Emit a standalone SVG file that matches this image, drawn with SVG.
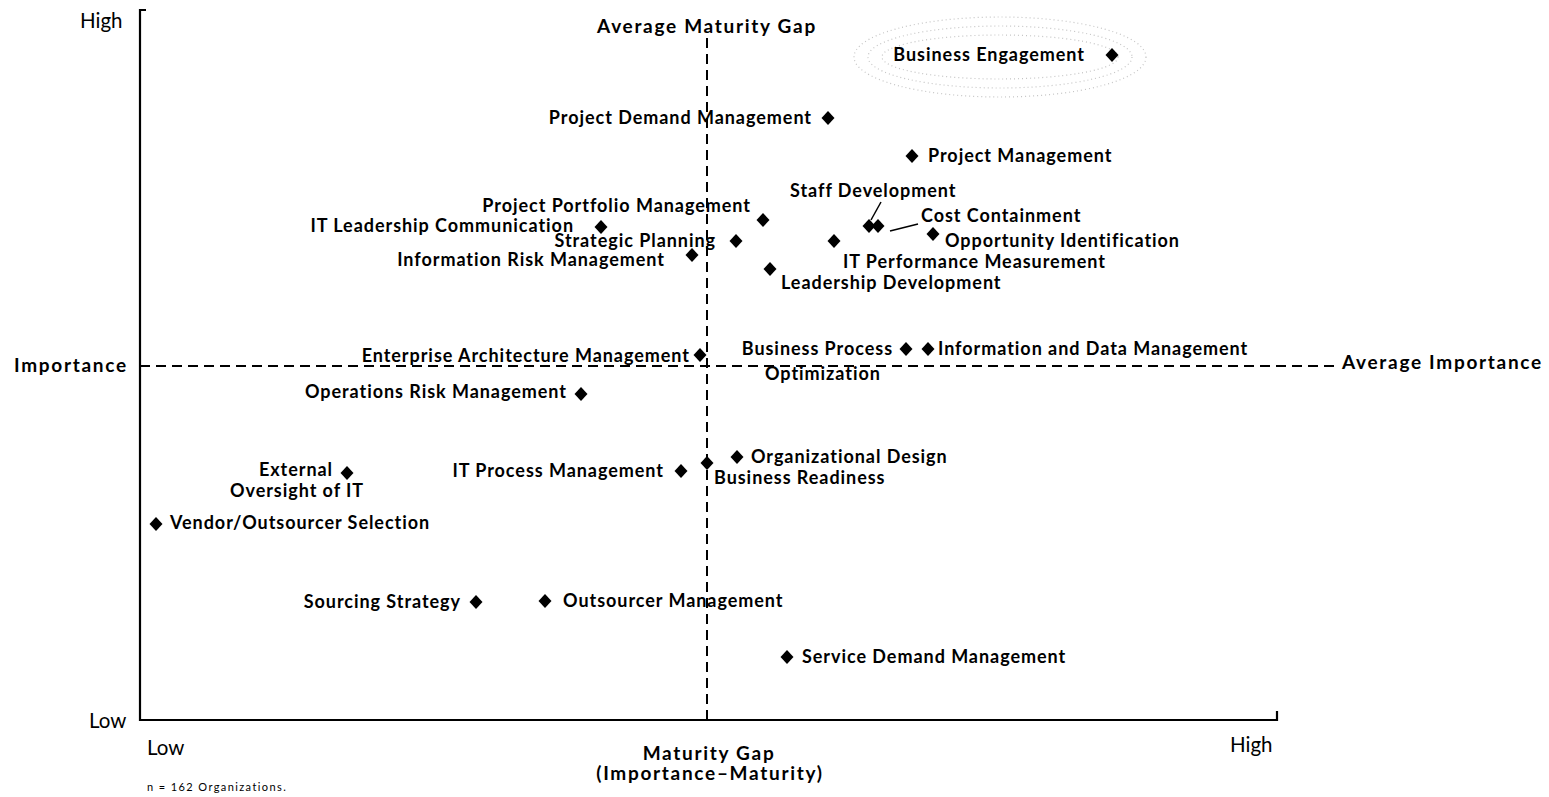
<svg xmlns="http://www.w3.org/2000/svg" width="1549" height="797" viewBox="0 0 1549 797">
  <style>
    .lbl { font-family: Lato, "Open Sans", sans-serif; font-weight: 700; font-size: 18px; letter-spacing: 0.95px; fill: #000; }
    .ttl { font-family: Lato, "Open Sans", sans-serif; font-weight: 700; font-size: 19px; letter-spacing: 1.7px; fill: #000; }
    .axis { font-family: Lato, "Open Sans", sans-serif; font-weight: 400; font-size: 20.5px; fill: #000; }
    .note { font-family: Lato, "Open Sans", sans-serif; font-weight: 400; font-size: 11px; letter-spacing: 1.4px; fill: #000; }
    .end { text-anchor: end; }
    .mid { text-anchor: middle; }
    .frame { fill: none; stroke: #000; stroke-width: 2.2; }
    .avg { fill: none; stroke: #000; stroke-width: 2; stroke-dasharray: 10 6; }
    .lead { fill: none; stroke: #000; stroke-width: 1.5; }
    .halo { fill: none; stroke: #c4c4c4; stroke-width: 1.2; stroke-dasharray: 1 3; }
  </style>
  <defs>
    <path id="dia" d="M0,-7 L6.5,0 L0,7 L-6.5,0 Z" fill="#000"/>
  </defs>
  <rect width="1549" height="797" fill="#fff"/>

  <!-- axes frame -->
  <g id="axes">
    <path class="frame" d="M146,10 L140,10 L140,720 L1277,720 L1277,711"/>
    <text class="axis" x="80" y="28">High</text>
    <text class="axis" x="89" y="728">Low</text>
    <text class="axis" x="147" y="755">Low</text>
    <text class="axis" x="1230" y="752">High</text>
    <text class="ttl mid" x="709" y="760">Maturity Gap</text>
    <text class="ttl mid" x="710" y="780">(Importance–Maturity)</text>
    <text class="ttl" x="14" y="372">Importance</text>
    <text class="note" x="147" y="791">n = 162 Organizations.</text>
  </g>

  <!-- average reference lines -->
  <g id="averages">
    <path class="avg" d="M707,38 L707,720"/>
    <path class="avg" d="M140,366 L1338,366"/>
    <text class="ttl mid" x="707" y="33">Average Maturity Gap</text>
    <text class="ttl" x="1342" y="369">Average Importance</text>
  </g>

  <!-- leader lines -->
  <g id="connectors">
    <path class="lead" d="M881,202 L871,220"/>
    <path class="lead" d="M890,231 L918,224"/>
  </g>

  <!-- capabilities -->
  <g id="business-engagement">
    <ellipse class="halo" cx="1000" cy="57" rx="146" ry="40"/>
    <ellipse class="halo" cx="1000" cy="57" rx="132" ry="31"/>
    <ellipse class="halo" cx="1000" cy="57" rx="118" ry="22"/>
    <use href="#dia" x="1112" y="55"/>
    <text class="lbl end" x="1085" y="61">Business Engagement</text>
  </g>
  <g id="project-demand-management">
    <use href="#dia" x="828" y="118"/>
    <text class="lbl end" x="812" y="124">Project Demand Management</text>
  </g>
  <g id="project-management">
    <use href="#dia" x="912" y="156"/>
    <text class="lbl" x="928" y="162">Project Management</text>
  </g>
  <g id="staff-development">
    <use href="#dia" x="869" y="226"/>
    <text class="lbl" x="790" y="197">Staff Development</text>
  </g>
  <g id="cost-containment">
    <use href="#dia" x="878" y="226"/>
    <text class="lbl" x="921" y="222">Cost Containment</text>
  </g>
  <g id="opportunity-identification">
    <use href="#dia" x="933" y="234"/>
    <text class="lbl" x="945" y="247">Opportunity Identification</text>
  </g>
  <g id="it-performance-measurement">
    <use href="#dia" x="834" y="241"/>
    <text class="lbl" x="843" y="268">IT Performance Measurement</text>
  </g>
  <g id="leadership-development">
    <use href="#dia" x="770" y="269"/>
    <text class="lbl" x="781" y="289">Leadership Development</text>
  </g>
  <g id="project-portfolio-management">
    <use href="#dia" x="763" y="220"/>
    <text class="lbl end" x="751" y="212">Project Portfolio Management</text>
  </g>
  <g id="it-leadership-communication">
    <use href="#dia" x="601" y="227"/>
    <text class="lbl end" x="574" y="232">IT Leadership Communication</text>
  </g>
  <g id="strategic-planning">
    <use href="#dia" x="736" y="241"/>
    <text class="lbl end" x="716" y="247">Strategic Planning</text>
  </g>
  <g id="information-risk-management">
    <use href="#dia" x="692" y="255"/>
    <text class="lbl end" x="665" y="266">Information Risk Management</text>
  </g>
  <g id="enterprise-architecture-management">
    <use href="#dia" x="700" y="355"/>
    <text class="lbl end" x="690" y="362">Enterprise Architecture Management</text>
  </g>
  <g id="business-process-optimization">
    <use href="#dia" x="906" y="349"/>
    <text class="lbl end" x="893" y="355">Business Process</text>
    <text class="lbl" x="765" y="380">Optimization</text>
  </g>
  <g id="information-data-management">
    <use href="#dia" x="928" y="349"/>
    <text class="lbl" x="938" y="355">Information and Data Management</text>
  </g>
  <g id="operations-risk-management">
    <use href="#dia" x="581" y="394"/>
    <text class="lbl end" x="567" y="398">Operations Risk Management</text>
  </g>
  <g id="external-oversight">
    <use href="#dia" x="347" y="473"/>
    <text class="lbl end" x="333" y="476">External</text>
    <text class="lbl" x="230" y="497">Oversight of IT</text>
  </g>
  <g id="vendor-selection">
    <use href="#dia" x="156" y="524"/>
    <text class="lbl" x="170" y="529">Vendor/Outsourcer Selection</text>
  </g>
  <g id="it-process-management">
    <use href="#dia" x="681" y="471"/>
    <text class="lbl end" x="664" y="477">IT Process Management</text>
  </g>
  <g id="business-readiness">
    <use href="#dia" x="707" y="463"/>
    <text class="lbl" x="714" y="484">Business Readiness</text>
  </g>
  <g id="organizational-design">
    <use href="#dia" x="737" y="457"/>
    <text class="lbl" x="751" y="463">Organizational Design</text>
  </g>
  <g id="sourcing-strategy">
    <use href="#dia" x="476" y="602"/>
    <text class="lbl end" x="461" y="608">Sourcing Strategy</text>
  </g>
  <g id="outsourcer-management">
    <use href="#dia" x="545" y="601"/>
    <text class="lbl" x="563" y="607">Outsourcer Management</text>
  </g>
  <g id="service-demand-management">
    <use href="#dia" x="787" y="657"/>
    <text class="lbl" x="802" y="663">Service Demand Management</text>
  </g>
</svg>
